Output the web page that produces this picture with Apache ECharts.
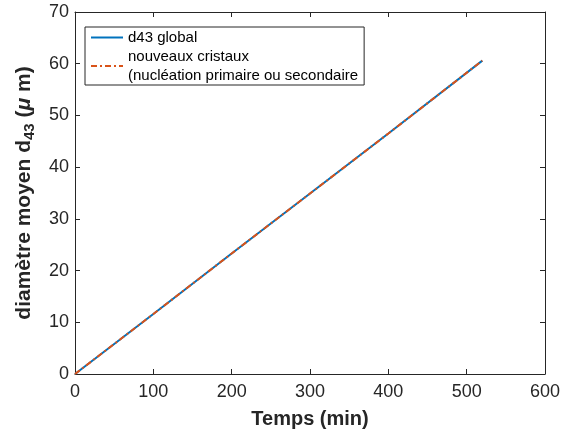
<!DOCTYPE html>
<html><head><meta charset="utf-8">
<script src="https://cdn.jsdelivr.net/npm/echarts@6/dist/echarts.min.js"></script>
<style>html,body{margin:0;padding:0;background:#fff}#c{width:566px;height:436px}</style>
</head><body><div id="c"></div>
<script>
const timeMin = [0, 100, 200, 300, 400, 520];
const d43Global = [0, 11.6, 23.3, 34.9, 46.5, 60.6];
const d43Nouveaux = [0, 11.6, 23.3, 34.9, 46.5, 60.6];
const seriesNames = ['d43 global', 'nouveaux cristaux\n(nucléation primaire ou secondaire'];

const chart = echarts.init(document.getElementById('c'));
const ff = 'Liberation Sans, Arial, Helvetica, sans-serif';
const axisCol = '#262626';
function pairs(xs, ys){ return xs.map((x,i)=>[x, ys[i]]); }
chart.setOption({
  animation: false,
  textStyle: {fontFamily: ff},
  grid: {left: 75, right: 21, top: 12, bottom: 62, show: false},
  legend: {
    orient: 'vertical', left: 85, top: 27,
    backgroundColor: '#fff', borderColor: axisCol, borderWidth: 1, borderRadius: 0,
    padding: [1, 6, 0, 5], itemGap: 0, itemWidth: 32, itemHeight: 10,
    itemStyle: {opacity: 0},
    textStyle: {fontFamily: ff, fontSize: 15, color: '#000', lineHeight: 19},
    data: seriesNames
  },
  xAxis: [{
    type: 'value', min: 0, max: 600, interval: 100,
    name: 'Temps (min)', nameLocation: 'middle', nameGap: 35,
    nameTextStyle: {fontSize: 20, fontWeight: 'bold', color: axisCol, fontFamily: ff},
    axisLine: {show: true, onZero: false, lineStyle: {color: axisCol, width: 1}},
    axisTick: {show: true, inside: true, length: 5, lineStyle: {color: axisCol}},
    axisLabel: {fontSize: 18, color: axisCol, margin: 9, fontFamily: ff},
    splitLine: {show: false}
  }, {
    type: 'value', position: 'top', min: 0, max: 600, interval: 100,
    axisLine: {show: true, onZero: false, lineStyle: {color: axisCol, width: 1}},
    axisTick: {show: true, inside: true, length: 5, lineStyle: {color: axisCol}},
    axisLabel: {show: false}, splitLine: {show: false}
  }],
  yAxis: [{
    type: 'value', min: 0, max: 70, interval: 10,
    name: '{a|diamètre moyen d}{s|43}{a| (}{m|μ}{a| m)}', nameLocation: 'middle', nameGap: 38,
    nameTextStyle: {
      color: axisCol,
      rich: {
        a: {fontSize: 21, fontWeight: 'bold', color: axisCol, fontFamily: ff},
        s: {fontSize: 15, fontWeight: 'bold', color: axisCol, fontFamily: ff, verticalAlign: 'bottom', padding: [10,0,0,0]},
        m: {fontSize: 21, fontWeight: 'bold', fontStyle: 'italic', color: axisCol, fontFamily: ff}
      }
    },
    axisLine: {show: true, onZero: false, lineStyle: {color: axisCol, width: 1}},
    axisTick: {show: true, inside: true, length: 5, lineStyle: {color: axisCol}},
    axisLabel: {fontSize: 18, color: axisCol, margin: 6, fontFamily: ff},
    splitLine: {show: false}
  }, {
    type: 'value', position: 'right', min: 0, max: 70, interval: 10,
    axisLine: {show: true, onZero: false, lineStyle: {color: axisCol, width: 1}},
    axisTick: {show: true, inside: true, length: 5, lineStyle: {color: axisCol}},
    axisLabel: {show: false}, splitLine: {show: false}
  }],
  series: [{
    name: seriesNames[0], type: 'line', showSymbol: false, symbol: 'none',
    data: pairs(timeMin, d43Global),
    lineStyle: {color: '#0072BD', width: 2}, itemStyle: {color: '#0072BD'}
  }, {
    name: seriesNames[1], type: 'line', showSymbol: false, symbol: 'none',
    data: pairs(timeMin, d43Nouveaux),
    lineStyle: {color: '#D95319', width: 2, type: [6, 3, 2, 3]}, itemStyle: {color: '#D95319'}
  }]
});
</script></body></html>
